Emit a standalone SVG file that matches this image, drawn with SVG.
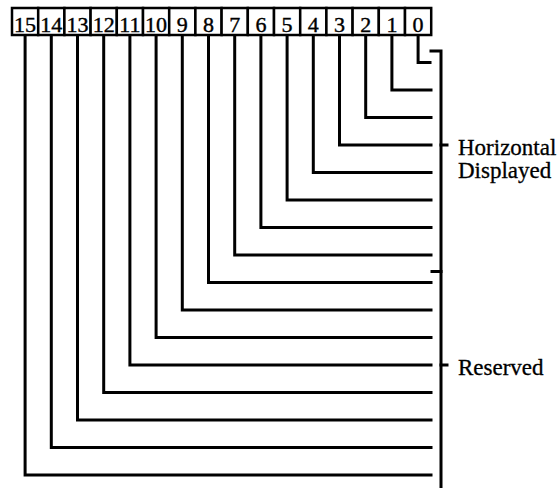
<svg xmlns="http://www.w3.org/2000/svg" width="558" height="488" viewBox="0 0 558 488">
<style>
.box{fill:#fff;stroke:#000;stroke-width:2.5}
.num{font-family:"Liberation Serif","Times New Roman",serif;font-size:22px;fill:#000;stroke:#000;stroke-width:0.4;text-anchor:middle}
.lbl{font-family:"Liberation Serif","Times New Roman",serif;font-size:23px;fill:#000;stroke:#000;stroke-width:0.3}
.wire{fill:none;stroke:#000;stroke-width:3;stroke-linejoin:miter;stroke-linecap:square}
</style>
<rect width="558" height="488" fill="#fff"/>
<g id="connectors">
<path class="wire" d="M25.1 35V475H431"/>
<path class="wire" d="M51.3 35V447.5H431"/>
<path class="wire" d="M77.5 35V420H431"/>
<path class="wire" d="M103.7 35V392.5H431"/>
<path class="wire" d="M129.9 35V365H431"/>
<path class="wire" d="M156.1 35V337.5H431"/>
<path class="wire" d="M182.3 35V310H431"/>
<path class="wire" d="M208.5 35V282.5H431"/>
<path class="wire" d="M234.7 35V255H431"/>
<path class="wire" d="M260.9 35V227.5H431"/>
<path class="wire" d="M287.1 35V200H431"/>
<path class="wire" d="M313.3 35V172.5H431"/>
<path class="wire" d="M339.5 35V145H431"/>
<path class="wire" d="M365.7 35V117.5H431"/>
<path class="wire" d="M391.9 35V90H431"/>
<path class="wire" d="M418.1 35V62.5H430"/>
<path class="wire" d="M431 51H441V488"/>
<path class="wire" d="M432 271.5H441"/>
<path class="wire" d="M441 145H447"/>
<path class="wire" d="M441 365H447"/>
</g>
<g id="bit15"><rect class="box" x="12" y="8" width="26.2" height="27"/><text class="num" x="25.1" y="32">15</text></g>
<g id="bit14"><rect class="box" x="38.2" y="8" width="26.2" height="27"/><text class="num" x="51.3" y="32">14</text></g>
<g id="bit13"><rect class="box" x="64.4" y="8" width="26.2" height="27"/><text class="num" x="77.5" y="32">13</text></g>
<g id="bit12"><rect class="box" x="90.6" y="8" width="26.2" height="27"/><text class="num" x="103.7" y="32">12</text></g>
<g id="bit11"><rect class="box" x="116.8" y="8" width="26.2" height="27"/><text class="num" x="129.9" y="32">11</text></g>
<g id="bit10"><rect class="box" x="143" y="8" width="26.2" height="27"/><text class="num" x="156.1" y="32">10</text></g>
<g id="bit9"><rect class="box" x="169.2" y="8" width="26.2" height="27"/><text class="num" x="182.3" y="32">9</text></g>
<g id="bit8"><rect class="box" x="195.4" y="8" width="26.2" height="27"/><text class="num" x="208.5" y="32">8</text></g>
<g id="bit7"><rect class="box" x="221.6" y="8" width="26.2" height="27"/><text class="num" x="234.7" y="32">7</text></g>
<g id="bit6"><rect class="box" x="247.8" y="8" width="26.2" height="27"/><text class="num" x="260.9" y="32">6</text></g>
<g id="bit5"><rect class="box" x="274" y="8" width="26.2" height="27"/><text class="num" x="287.1" y="32">5</text></g>
<g id="bit4"><rect class="box" x="300.2" y="8" width="26.2" height="27"/><text class="num" x="313.3" y="32">4</text></g>
<g id="bit3"><rect class="box" x="326.4" y="8" width="26.2" height="27"/><text class="num" x="339.5" y="32">3</text></g>
<g id="bit2"><rect class="box" x="352.6" y="8" width="26.2" height="27"/><text class="num" x="365.7" y="32">2</text></g>
<g id="bit1"><rect class="box" x="378.8" y="8" width="26.2" height="27"/><text class="num" x="391.9" y="32">1</text></g>
<g id="bit0"><rect class="box" x="405" y="8" width="26.2" height="27"/><text class="num" x="418.1" y="32">0</text></g>
<g id="label-horizontal-displayed"><text class="lbl" x="458" y="155">Horizontal</text><text class="lbl" x="458" y="178">Displayed</text></g>
<g id="label-reserved"><text class="lbl" x="458" y="375">Reserved</text></g>
</svg>
